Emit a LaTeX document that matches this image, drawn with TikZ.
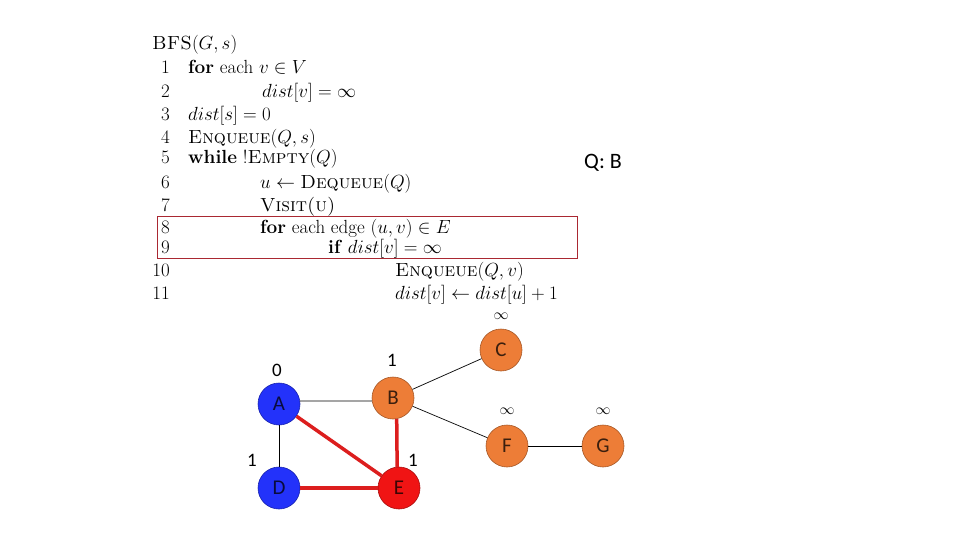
\RequirePackage{fix-cm}
\documentclass[tikz,border=0pt]{standalone}
\usepackage{fontspec}
\newfontfamily\carl{Carlito}
\definecolor{nblue}{RGB}{35,50,250}
\definecolor{norange}{RGB}{237,125,55}
\definecolor{nred}{RGB}{240,20,20}
\definecolor{boxred}{RGB}{170,40,50}
\definecolor{ered}{RGB}{220,30,30}
\begin{document}
\begin{tikzpicture}[x=1pt,y=-1pt,
  code/.style={anchor=base west,inner sep=0pt,font=\fontsize{19}{22}\selectfont},
  num/.style={anchor=base east,inner sep=0pt,font=\fontsize{19}{22}\selectfont},
  vert/.style={circle,minimum size=42pt,inner sep=0pt,draw=#1!70!black,line width=0.6pt,fill=#1,font=\carl\fontsize{21}{22}\selectfont,text=#1!25!black},
  dlab/.style={inner sep=0pt,font=\carl\fontsize{19}{20}\selectfont},
  ilab/.style={inner sep=0pt,font=\fontsize{15}{16}\selectfont},
  thin edge/.style={draw=black,line width=0.7pt},
  red edge/.style={draw=ered,line width=3.5pt}]
\useasboundingbox (0,0) rectangle (960,540);
% pseudocode
\node[code] (title) at (152,50) {\textsc{BFS}$(G,s)$};
\node[num] (n1) at (170,74) {1};
\node[num] (n2) at (170,98) {2};
\node[num] (n3) at (170,121) {3};
\node[num] (n4) at (170,144) {4};
\node[num] (n5) at (170,164) {5};
\node[num] (n6) at (170,188) {6};
\node[num] (n7) at (170,211) {7};
\node[num] (n8) at (170,233) {8};
\node[num] (n9) at (170,253) {9};
\node[num] (n10) at (170,276) {10};
\node[num] (n11) at (170,299) {11};
\node[code] (l1) at (188,74) {\textbf{for} each $v\in V$};
\node[code] (l2) at (262,98) {$dist[v]=\infty$};
\node[code] (l3) at (188,121) {$dist[s]=0$};
\node[code] (l4) at (188,144) {\textsc{Enqueue}$(Q,s)$};
\node[code] (l5) at (188,164) {\textbf{while} !\textsc{Empty}$(Q)$};
\node[code] (l6) at (260,188) {$u\gets{}$\textsc{Dequeue}$(Q)$};
\node[code] (l7) at (260,211) {\textsc{Visit(u)}};
\node[code] (l8) at (260,233) {\textbf{for} each edge $(u,v)\in E$};
\node[code] (l9) at (328,253) {\textbf{if} $dist[v]=\infty$};
\node[code] (l10) at (395,276) {\textsc{Enqueue}$(Q,v)$};
\node[code] (l11) at (395,299) {$dist[v]\gets dist[u]+1$};
\draw[boxred,line width=1pt] (157,216) rectangle (577,258);
\node[inner sep=0pt,font=\carl\fontsize{22}{24}\selectfont] (q) at (603,163) {Q: B};
% graph
\node[vert=nblue] (A) at (279,404) {A};
\node[vert=norange] (B) at (393,398) {B};
\node[vert=norange] (C) at (501,350) {C};
\node[vert=nblue] (D) at (279,488) {D};
\node[vert=nred] (E) at (399,488) {E};
\node[vert=norange] (F) at (507,446) {F};
\node[vert=norange] (G) at (603,446) {G};
\draw[thin edge] (A.8) -- (B.188);
\draw[thin edge] (A) -- (D);
\draw[thin edge] (B) -- (C);
\draw[thin edge] (B) -- (F);
\draw[thin edge] (F) -- (G);
\draw[red edge] (A) -- (E);
\draw[red edge] (B.-80) -- (E.95);
\draw[red edge] (D) -- (E);
\node[dlab] (la) at (277,370) {0};
\node[dlab] (lb) at (392,360) {1};
\node[dlab] (ld) at (252,460) {1};
\node[dlab] (le) at (413,460) {1};
\node[ilab] (lc) at (501,316) {$\infty$};
\node[ilab] (lf) at (507,411) {$\infty$};
\node[ilab] (lg) at (603,411) {$\infty$};
\end{tikzpicture}
\end{document}
